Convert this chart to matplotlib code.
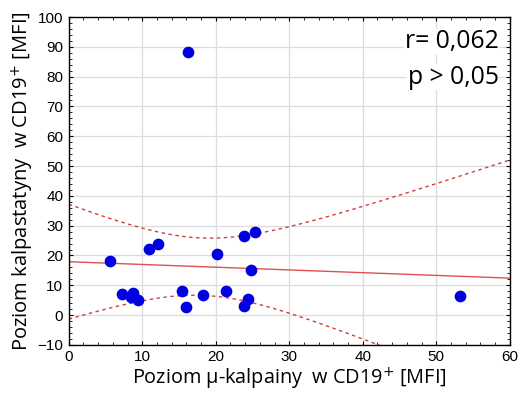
import numpy as np
import matplotlib.pyplot as plt
from matplotlib.ticker import MultipleLocator

# mu-calpain level (x) vs calpastatin level (y), CD19+ cells [MFI]
calpain = [16.2, 5.6, 10.9, 12.1, 20.2, 23.8, 25.3, 24.8, 7.3, 8.4, 8.8, 9.4,
           15.4, 15.9, 18.2, 21.4, 24.4, 23.9, 53.2]
calpastatin = [88.3, 18.2, 22.3, 23.9, 20.4, 26.4, 27.8, 15.3, 7.0, 6.0, 7.3, 5.1,
               8.1, 2.8, 6.6, 8.2, 5.3, 3.1, 6.5]

x = np.array(calpain)
y = np.array(calpastatin)

# linear fit + 95% confidence band of the mean
n = len(x)
slope, intercept = np.polyfit(x, y, 1)
resid = y - (intercept + slope * x)
s = np.sqrt(np.sum(resid ** 2) / (n - 2))
t = 2.11  # t(0.975, n-2)
xs = np.linspace(0, 60, 200)
fit = intercept + slope * xs
se = s * np.sqrt(1 / n + (xs - x.mean()) ** 2 / np.sum((x - x.mean()) ** 2))

fig = plt.figure(figsize=(5.25, 3.96), dpi=100)
ax = fig.add_axes([0.131, 0.129, 0.84, 0.828])

ax.grid(True, color='#dcdcdc', linewidth=0.9)
ax.set_axisbelow(True)
ax.plot(xs, fit, color='#e05050', linewidth=1.0)
ax.plot(xs, fit + t * se, color='#d04040', linewidth=1.0, linestyle=(0, (2.5, 2.5)))
ax.plot(xs, fit - t * se, color='#d04040', linewidth=1.0, linestyle=(0, (2.5, 2.5)))
ax.scatter(x, y, s=55, color='#0000e0', zorder=3)

ax.set_xlim(0, 60)
ax.set_ylim(-10, 100)
ax.xaxis.set_major_locator(MultipleLocator(10))
ax.yaxis.set_major_locator(MultipleLocator(10))
ax.xaxis.set_minor_locator(MultipleLocator(2))
ax.yaxis.set_minor_locator(MultipleLocator(2))
ax.tick_params(which='both', direction='in', top=True, right=True, labelsize=11, pad=4)
ax.tick_params(which='major', length=3)
ax.tick_params(which='minor', length=2)
for lab in ax.get_xticklabels() + ax.get_yticklabels():
    lab.set_family('Liberation Sans')
for sp in ax.spines.values():
    sp.set_linewidth(1.0)

ax.set_xlabel('Poziom µ-kalpainy  w CD19$^{+}$ [MFI]', family='Open Sans', fontsize=14.3, labelpad=1)
ax.set_ylabel('Poziom kalpastatyny  w CD19$^{+}$ [MFI]', family='Open Sans', fontsize=14.5, labelpad=1)

box = dict(facecolor='white', edgecolor='none', pad=0.5)
ax.text(0.975, 0.924, 'r= 0,062', transform=ax.transAxes, ha='right', va='center',
        family='Open Sans', fontsize=17.8, bbox=box)
ax.text(0.975, 0.817, 'p > 0,05', transform=ax.transAxes, ha='right', va='center',
        family='Open Sans', fontsize=17.8, bbox=box)

fig.savefig('out.png', dpi=100)
